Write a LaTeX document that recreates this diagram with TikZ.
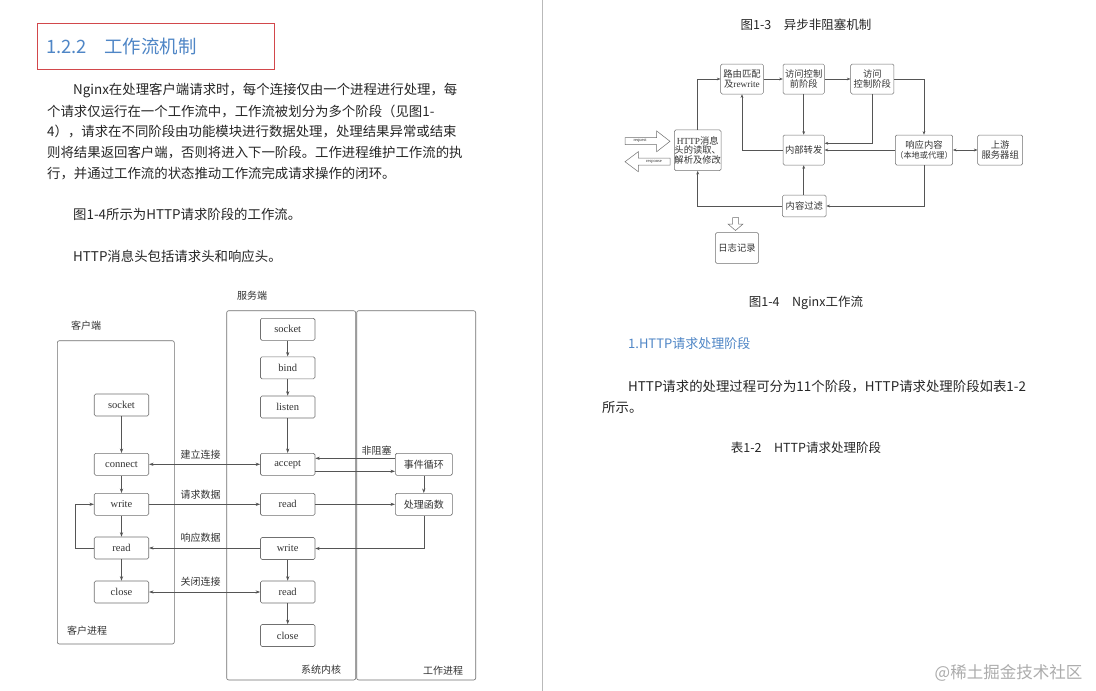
\documentclass[tikz,border=0pt]{standalone}
\usepackage{fontspec}
\setmainfont{Noto Sans CJK SC}
\newfontfamily\lat{Liberation Serif}
\usetikzlibrary{arrows.meta}
\definecolor{headblue}{HTML}{4F86C6}
\definecolor{redbox}{HTML}{D2474B}
\definecolor{bodytxt}{HTML}{262626}
\definecolor{boxc}{HTML}{707070}
\definecolor{linec}{HTML}{555555}
\definecolor{dtxt}{HTML}{333333}
\newcommand\fs[1]{\fontsize{#1}{#1}\selectfont}
\tikzset{
  bodyline/.style={anchor=west, inner sep=0, text=bodytxt, font=\fs{13.4}},
  lbox/.style={draw=boxc, rounded corners=1.5pt, minimum width=54.5, minimum height=22, inner sep=0, text=dtxt, font=\lat\fs{10.5}, line width=0.6pt},
  wbox/.style={lbox, minimum width=57, font=\fs{10}},
  frame/.style={draw=boxc, rounded corners=2pt, line width=0.6pt, inner sep=0},
  lab/.style={inner sep=0, text=dtxt, font=\fs{10}},
  arr/.style={draw=linec, line width=0.55pt, -{Stealth[length=4.5pt,width=3.2pt]}},
  darr/.style={draw=linec, line width=0.55pt, {Stealth[length=4.5pt,width=3.2pt]}-{Stealth[length=4.5pt,width=3.2pt]}},
  rbox/.style={draw=boxc, rounded corners=1.5pt, line width=0.5pt, inner sep=0, align=center, text=dtxt, font=\fs{9.3}, minimum height=30},
  rarr/.style={draw=linec, line width=0.5pt, -{Stealth[length=3.6pt,width=2.8pt]}},
  rdarr/.style={draw=linec, line width=0.5pt, {Stealth[length=3.6pt,width=2.8pt]}-{Stealth[length=3.6pt,width=2.8pt]}},
  captxt/.style={inner sep=0, text=bodytxt, font=\fs{12.5}},
}
\begin{document}
\begin{tikzpicture}[x=1pt,y=-1pt]
\useasboundingbox (0,0) rectangle (1096,691);
\fill[white] (0,0) rectangle (1096,691);
% page divider
\draw[gray!55, line width=1pt] (542,0) -- (542,691);

% ---------- left page text ----------
\node[draw=redbox, line width=0.8pt, minimum width=237, minimum height=46, anchor=north west, inner sep=0] (hbox) at (37,23) {};
\node[anchor=west, inner sep=0, text=headblue, font=\fs{18.4}] (head) at (46,47) {1.2.2\hspace{0.95em}工作流机制};

\node[bodyline] (p1) at (73,90) {Nginx在处理客户端请求时，每个连接仅由一个进程进行处理，每};
\node[bodyline] (p2) at (47,111) {个请求仅运行在一个工作流中，工作流被划分为多个阶段（见图1-};
\node[bodyline] (p3) at (47,131.5) {4），请求在不同阶段由功能模块进行数据处理，处理结果异常或结束};
\node[bodyline] (p4) at (47,152.5) {则将结果返回客户端，否则将进入下一阶段。工作进程维护工作流的执};
\node[bodyline] (p5) at (47,173.5) {行，并通过工作流的状态推动工作流完成请求操作的闭环。};
\node[bodyline] (p6) at (73,214) {图1-4所示为HTTP请求阶段的工作流。};
\node[bodyline] (p7) at (73,256) {HTTP消息头包括请求头和响应头。};

% ---------- left diagram ----------
\node[frame, minimum width=117, minimum height=303.3] (cframe) at (115.8,492.35) {};
\node[frame, minimum width=129, minimum height=369.3] (kframe) at (291.2,495.35) {};
\node[frame, minimum width=119, minimum height=369.3] (wframe) at (416.2,495.35) {};

\node[lab] (lserver) at (252,296) {服务端};
\node[lab] (lclient) at (86,326) {客户端};
\node[lab] (lcproc) at (87,631) {客户进程};
\node[lab] (lkern) at (321,670) {系统内核};
\node[lab] (lwork) at (443,670.5) {工作进程};

\node[lbox] (cs) at (121.5,405) {socket};
\node[lbox] (cc) at (121.5,464.3) {connect};
\node[lbox] (cw) at (121.5,504.3) {write};
\node[lbox] (cr) at (121.5,548) {read};
\node[lbox] (cx) at (121.5,592) {close};

\node[lbox] (ss) at (287.7,329.3) {socket};
\node[lbox] (sb) at (287.7,367.8) {bind};
\node[lbox] (sl) at (287.7,407) {listen};
\node[lbox] (sa) at (287.7,464.3) {accept};
\node[lbox] (sr) at (287.7,504.3) {read};
\node[lbox] (sw) at (287.7,548.5) {write};
\node[lbox] (sr2) at (287.7,592) {read};
\node[lbox] (sx) at (287.7,635.5) {close};

\node[wbox] (ev) at (423.8,464.3) {事件循环};
\node[wbox] (pf) at (423.8,504.3) {处理函数};

\draw[arr] (cs) -- (cc);
\draw[arr] (cc) -- (cw);
\draw[arr] (cw) -- (cr);
\draw[arr] (cr) -- (cx);
\draw[arr] (cr.west) -- ++(-18.3,0) |- (cw.west);

\draw[arr] (ss) -- (sb);
\draw[arr] (sb) -- (sl);
\draw[arr] (sl) -- (sa);
\draw[arr] (sw) -- (sr2);
\draw[arr] (sr2) -- (sx);

\draw[darr] (cc) -- node[lab, midway, above=5pt, xshift=-4pt] {建立连接} (sa);
\draw[arr] (cw) -- node[lab, midway, above=5pt, xshift=-4pt] {请求数据} (sr);
\draw[arr] (sw.west |- cr.east) -- node[lab, midway, above=5pt, xshift=-4pt] {响应数据} (cr.east);
\draw[darr] (cx) -- node[lab, midway, above=5pt, xshift=-4pt] {关闭连接} (sr2);

\draw[arr] ([yshift=6pt]ev.west) -- node[lab, pos=0.23, above=3pt] {非阻塞} ([yshift=6pt]sa.east);
\draw[arr] ([yshift=-7pt]sa.east) -- ([yshift=-7pt]ev.west);
\draw[arr] (ev) -- (pf);
\draw[arr] (sr) -- (pf);
\draw[arr] (pf.south) |- (sw.east);

% ---------- right page ----------
\node[captxt] (cap13) at (806,25) {图1-3\hspace{1em}异步非阻塞机制};

\node[rbox, minimum width=42.7] (route) at (742,79) {路由匹配\\及{\lat rewrite}};
\node[rbox, minimum width=41.3] (pre) at (803.7,79) {访问控制\\前阶段};
\node[rbox, minimum width=43.3] (acc) at (872.3,79) {访问\\控制阶段};
\node[rbox, minimum width=46.7, minimum height=40.7] (http) at (697.7,150.3) {{\lat HTTP}消息\\头的读取、\\解析及修改};
\node[rbox, minimum width=41.3] (fwd) at (803.7,150) {内部转发};
\node[rbox, minimum width=56.7] (resp) at (924,150) {响应内容\\{\fs{8.2}（本地或代理）}};
\node[rbox, minimum width=45] (up) at (1000.2,150) {上游\\服务器组};
\node[rbox, minimum width=43.7, minimum height=21.7] (filt) at (804.3,206) {内容过滤};
\node[rbox, minimum width=43.3, minimum height=30.7] (log) at (737,248) {日志记录};

\draw[rarr] (http.north) |- (route.west);
\draw[rarr] (route) -- (pre);
\draw[rarr] (pre) -- (acc);
\draw[rarr] (acc.east) -| (resp.north);
\draw[rarr] (pre) -- (fwd);
\draw[rarr] (acc.south) |- ([yshift=6.7pt]fwd.east);
\draw[rarr] (resp.west) -- (fwd.east);
\draw[rarr] (fwd.west) -| (route.south);
\draw[rdarr] (resp) -- (up);
\draw[rarr] (resp.south) |- (filt.east);
\draw[rarr] (filt.north -| fwd.south) -- (fwd.south);
\draw[rarr] (filt.west) -| (http.south);

% request / response block arrows
\draw[boxc, line width=0.5pt, fill=white] (625,137.7) -- (656.7,137.7) -- (656.7,131) -- (670,141.3) -- (656.7,151.7) -- (656.7,144.7) -- (625,144.7) -- cycle;
\node[inner sep=0, text=dtxt, font=\lat\fs{4.5}] (reqt) at (640,141.2) {request};
\draw[boxc, line width=0.5pt, fill=white] (670,158) -- (638.3,158) -- (638.3,151.7) -- (625,161.7) -- (638.3,171.7) -- (638.3,165) -- (670,165) -- cycle;
\node[inner sep=0, text=dtxt, font=\lat\fs{4.5}] (rest) at (654,161.5) {response};
% hollow down arrow above log
\draw[boxc, line width=0.5pt, fill=white] (732.5,217.7) -- (738.5,217.7) -- (738.5,224) -- (743,224) -- (735.5,230.5) -- (728,224) -- (732.5,224) -- cycle;

\node[captxt] (cap14) at (806,303) {图1-4\hspace{1em}Nginx工作流};
\node[anchor=west, inner sep=0, text=headblue, font=\fs{13}] (sub1) at (628,344) {1.HTTP请求处理阶段};
\node[bodyline] (q1) at (628,387) {HTTP请求的处理过程可分为11个阶段，HTTP请求处理阶段如表1-2};
\node[bodyline] (q2) at (602,407.5) {所示。};
\node[captxt] (tab12) at (806,448) {表1-2\hspace{1em}HTTP请求处理阶段};

\node[inner sep=0, text=gray!65, font=\fs{16.5}] (wm) at (1008.5,673) {@稀土掘金技术社区};
\end{tikzpicture}
\end{document}
